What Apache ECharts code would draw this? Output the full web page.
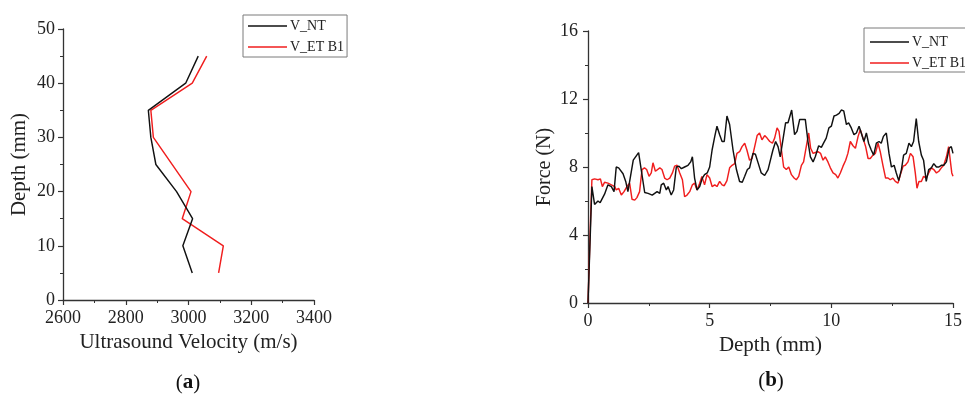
<!DOCTYPE html>
<html>
<head>
<meta charset="utf-8">
<script src="https://cdn.jsdelivr.net/npm/echarts@6/dist/echarts.min.js"></script>
<style>
html,body{margin:0;padding:0;background:#fff;}
#c{width:965px;height:394px;}
</style>
</head>
<body>
<div id="c"></div>
<script>
// ---- Panel (a): ultrasound velocity vs depth ----
var depthNT_a = [5, 10, 15, 20, 25, 30, 35, 40, 45];
var velNT_a   = [3012, 2982, 3013, 2962, 2896, 2880, 2872, 2991, 3031];
var depthET_a = [5, 10, 15, 20, 30, 35, 40, 45];
var velET_a   = [3096, 3111, 2980, 3008, 2888, 2880, 3012, 3058];

// ---- Panel (b): force vs depth ----
var depthNT_b = [0,0.16,0.27,0.41,0.5,0.68,0.82,0.96,1.07,1.16,1.26,1.34,1.44,1.55,1.64,1.86,2.08,2.33,2.47,2.64,2.84,2.95,3.01,3.11,3.22,3.29,3.42,3.52,3.63,3.74,3.84,3.97,4.11,4.22,4.29,4.38,4.48,4.59,4.7,4.79,4.9,5.0,5.1,5.21,5.3,5.41,5.51,5.6,5.71,5.82,5.96,6.1,6.23,6.34,6.44,6.55,6.64,6.78,6.88,7.0,7.12,7.26,7.4,7.53,7.6,7.71,7.81,7.9,8.12,8.22,8.37,8.49,8.59,8.7,8.84,8.93,9.04,9.14,9.25,9.34,9.48,9.59,9.68,9.79,9.9,10.0,10.11,10.21,10.32,10.41,10.51,10.62,10.71,10.82,10.93,11.03,11.14,11.23,11.34,11.44,11.53,11.64,11.74,11.85,11.96,12.05,12.14,12.26,12.37,12.47,12.58,12.67,12.77,12.88,12.97,13.08,13.19,13.29,13.38,13.49,13.59,13.7,13.79,13.9,14.0,14.11,14.21,14.32,14.42,14.52,14.62,14.73,14.84,14.93,15.0];
var forceNT_b = [0,6.85,5.8,6.0,5.9,6.4,6.95,6.85,6.55,8.0,7.95,8.0,7.6,7.15,6.55,8.4,8.85,6.5,6.45,6.35,6.55,6.45,6.95,7.05,6.65,6.85,6.35,6.65,8.0,8.05,7.9,8.0,8.1,8.3,8.6,7.35,6.65,6.85,7.35,7.55,7.65,8.0,9.0,9.8,10.4,9.9,9.5,9.5,11.0,10.5,9.0,7.85,7.15,7.1,7.45,7.85,7.95,8.8,8.75,8.2,7.65,7.5,7.85,8.6,9.0,9.5,9.2,8.6,10.6,10.6,11.35,9.9,10.1,10.8,10.8,10.8,9.5,8.6,8.3,8.6,9.25,9.15,9.4,9.7,10.3,10.4,11.0,11.05,11.15,11.35,11.3,10.5,10.6,10.3,9.9,10.0,10.4,10.0,9.5,10.0,9.4,9.0,8.7,9.4,9.5,9.4,9.8,10.0,8.8,8.0,8.1,7.65,7.2,7.85,8.7,8.8,9.4,9.2,9.5,10.85,9.5,8.7,8.4,7.15,7.85,7.95,8.2,8.0,8.0,8.1,8.1,8.3,9.1,9.2,8.8];
var depthET_b = [0,0.1,0.16,0.27,0.41,0.51,0.59,0.68,0.82,0.96,1.1,1.16,1.26,1.37,1.48,1.6,1.71,1.81,1.92,2.01,2.12,2.22,2.32,2.41,2.51,2.6,2.67,2.77,2.85,2.95,3.04,3.15,3.25,3.36,3.47,3.56,3.66,3.77,3.88,3.97,4.07,4.18,4.29,4.38,4.48,4.59,4.68,4.79,4.89,5.0,5.1,5.21,5.3,5.41,5.51,5.6,5.71,5.82,5.92,6.03,6.12,6.23,6.33,6.44,6.53,6.64,6.74,6.85,6.95,7.05,7.15,7.26,7.36,7.47,7.58,7.67,7.77,7.85,7.95,8.04,8.15,8.25,8.36,8.47,8.56,8.66,8.77,8.86,8.97,9.07,9.15,9.25,9.34,9.45,9.56,9.66,9.75,9.86,9.96,10.07,10.18,10.27,10.37,10.48,10.59,10.68,10.78,10.89,10.99,11.1,11.19,11.3,11.41,11.51,11.6,11.71,11.81,11.92,12.01,12.12,12.23,12.33,12.42,12.53,12.63,12.74,12.84,12.95,13.04,13.15,13.25,13.36,13.45,13.52,13.6,13.7,13.79,13.9,14.0,14.11,14.21,14.32,14.42,14.52,14.62,14.73,14.82,14.89,14.95,15.0];
var forceET_b = [0,4.7,7.25,7.3,7.25,7.3,6.85,7.1,7.05,6.95,6.85,6.65,6.75,6.35,6.55,6.85,7.05,6.1,6.05,6.2,6.55,7.85,7.95,7.85,7.45,7.65,8.25,7.75,7.65,7.95,7.85,7.35,7.25,7.35,7.65,8.05,8.1,7.65,7.25,6.25,6.35,6.55,6.95,7.05,6.65,7.05,7.45,6.95,7.55,7.35,6.85,6.95,6.85,7.15,6.95,6.9,7.2,7.95,8.1,8.2,8.8,8.9,9.2,9.4,9.0,8.4,8.5,9.2,9.85,10.0,9.6,9.85,9.7,9.5,9.4,9.7,10.3,10.1,9.0,8.0,7.85,8.0,7.55,7.35,7.25,7.45,8.1,8.3,9.2,10.0,9.1,8.8,8.85,8.9,8.8,8.4,8.6,8.3,7.95,7.65,7.55,7.35,7.65,8.05,8.4,8.8,9.5,9.25,9.1,9.8,10.2,9.7,9.2,8.5,8.5,8.7,8.8,9.4,8.9,8.1,7.35,7.35,7.25,7.35,7.15,7.05,7.55,8.05,8.1,8.3,8.8,8.6,7.65,6.75,7.15,7.15,7.45,7.35,7.65,7.95,7.85,7.65,7.75,7.95,8.1,8.6,9.2,9.1,7.65,7.45];

var seriesNames = ['V_NT', 'V_ET B1'];
var titlesA = ['Ultrasound Velocity (m/s)', 'Depth (mm)'];
var titlesB = ['Depth (mm)', 'Force (N)'];

function pairs(xs, ys) { return xs.map(function (x, i) { return [x, ys[i]]; }); }

var FONT = '"Liberation Serif", "DejaVu Serif", serif';
var BLACK = '#111111';
var RED = '#f01e1e';
var AXC = '#333333';

function axisCommon(min, max, interval, name, nameGap, nameSize, labelMargin) {
  return {
    type: 'value', min: min, max: max, interval: interval,
    name: name, nameLocation: 'middle', nameGap: nameGap,
    nameTextStyle: { fontFamily: FONT, fontSize: nameSize, color: '#222' },
    axisLine: { show: true, onZero: false, lineStyle: { color: AXC, width: 1.3 } },
    axisTick: { show: true, inside: false, length: 5, lineStyle: { color: AXC, width: 1.2 } },
    minorTick: { show: true, splitNumber: 2, length: 3, lineStyle: { color: AXC, width: 1 } },
    axisLabel: { fontFamily: FONT, fontSize: 18, color: '#222', margin: labelMargin,
      showMinLabel: true, showMaxLabel: true, formatter: function (v) { return String(v); } },
    splitLine: { show: false }
  };
}

var xa = axisCommon(2600, 3400, 200, titlesA[0], 30, 21, 9); xa.gridIndex = 0;
var ya = axisCommon(0, 50, 10, titlesA[1], 33, 21, 8); ya.gridIndex = 0;
var xb = axisCommon(0, 15, 5, titlesB[0], 30, 21, 9); xb.gridIndex = 1;
var yb = axisCommon(0, 16, 4, titlesB[1], 33, 20, 10); yb.gridIndex = 1;

function legendCfg(left, top, padding) {
  return {
    data: seriesNames, orient: 'vertical', left: left, top: top,
    icon: 'rect', itemWidth: 39, itemHeight: 1.6, itemGap: 7, padding: padding,
    borderColor: '#7a7a7a', borderWidth: 1, backgroundColor: '#fff',
    textStyle: { fontFamily: FONT, fontSize: 14, lineHeight: 14, color: '#222', padding: [0, 0, 0, -2] },
    selectedMode: false
  };
}

function lineSeries(name, color, data, xi, yi) {
  return {
    type: 'line', name: name, xAxisIndex: xi, yAxisIndex: yi,
    data: data, symbol: 'none', showSymbol: false, smooth: false,
    lineStyle: { color: color, width: 1.45 }, itemStyle: { color: color },
    z: name === 'V_NT' ? 3 : 2
  };
}

var option = {
  animation: false,
  backgroundColor: '#ffffff',
  grid: [
    { left: 63, top: 29, width: 251, height: 271, containLabel: false },
    { left: 588, top: 31, width: 365, height: 272, containLabel: false }
  ],
  xAxis: [xa, xb],
  yAxis: [ya, yb],
  legend: [legendCfg(243, 15, [4, 3, 3, 5]), legendCfg(864, 28, [7, 6, 2, 6])],
  series: [
    lineSeries(seriesNames[0], BLACK, pairs(velNT_a, depthNT_a), 0, 0),
    lineSeries(seriesNames[1], RED, pairs(velET_a, depthET_a), 0, 0),
    lineSeries(seriesNames[0], BLACK, pairs(depthNT_b, forceNT_b), 1, 1),
    lineSeries(seriesNames[1], RED, pairs(depthET_b, forceET_b), 1, 1)
  ],
  graphic: [
    { type: 'text', x: 188, y: 383, style: { text: '{n|(}{b|a}{n|)}', align: 'center', verticalAlign: 'middle',
      rich: { n: { fontFamily: FONT, fontSize: 21, fill: '#111' }, b: { fontFamily: FONT, fontSize: 21, fontWeight: 'bold', fill: '#111' } } } },
    { type: 'text', x: 771, y: 381, style: { text: '{n|(}{b|b}{n|)}', align: 'center', verticalAlign: 'middle',
      rich: { n: { fontFamily: FONT, fontSize: 21, fill: '#111' }, b: { fontFamily: FONT, fontSize: 21, fontWeight: 'bold', fill: '#111' } } } }
  ]
};

var chart = echarts.init(document.getElementById('c'), null, { renderer: 'canvas' });
chart.setOption(option);
</script>
</body>
</html>
